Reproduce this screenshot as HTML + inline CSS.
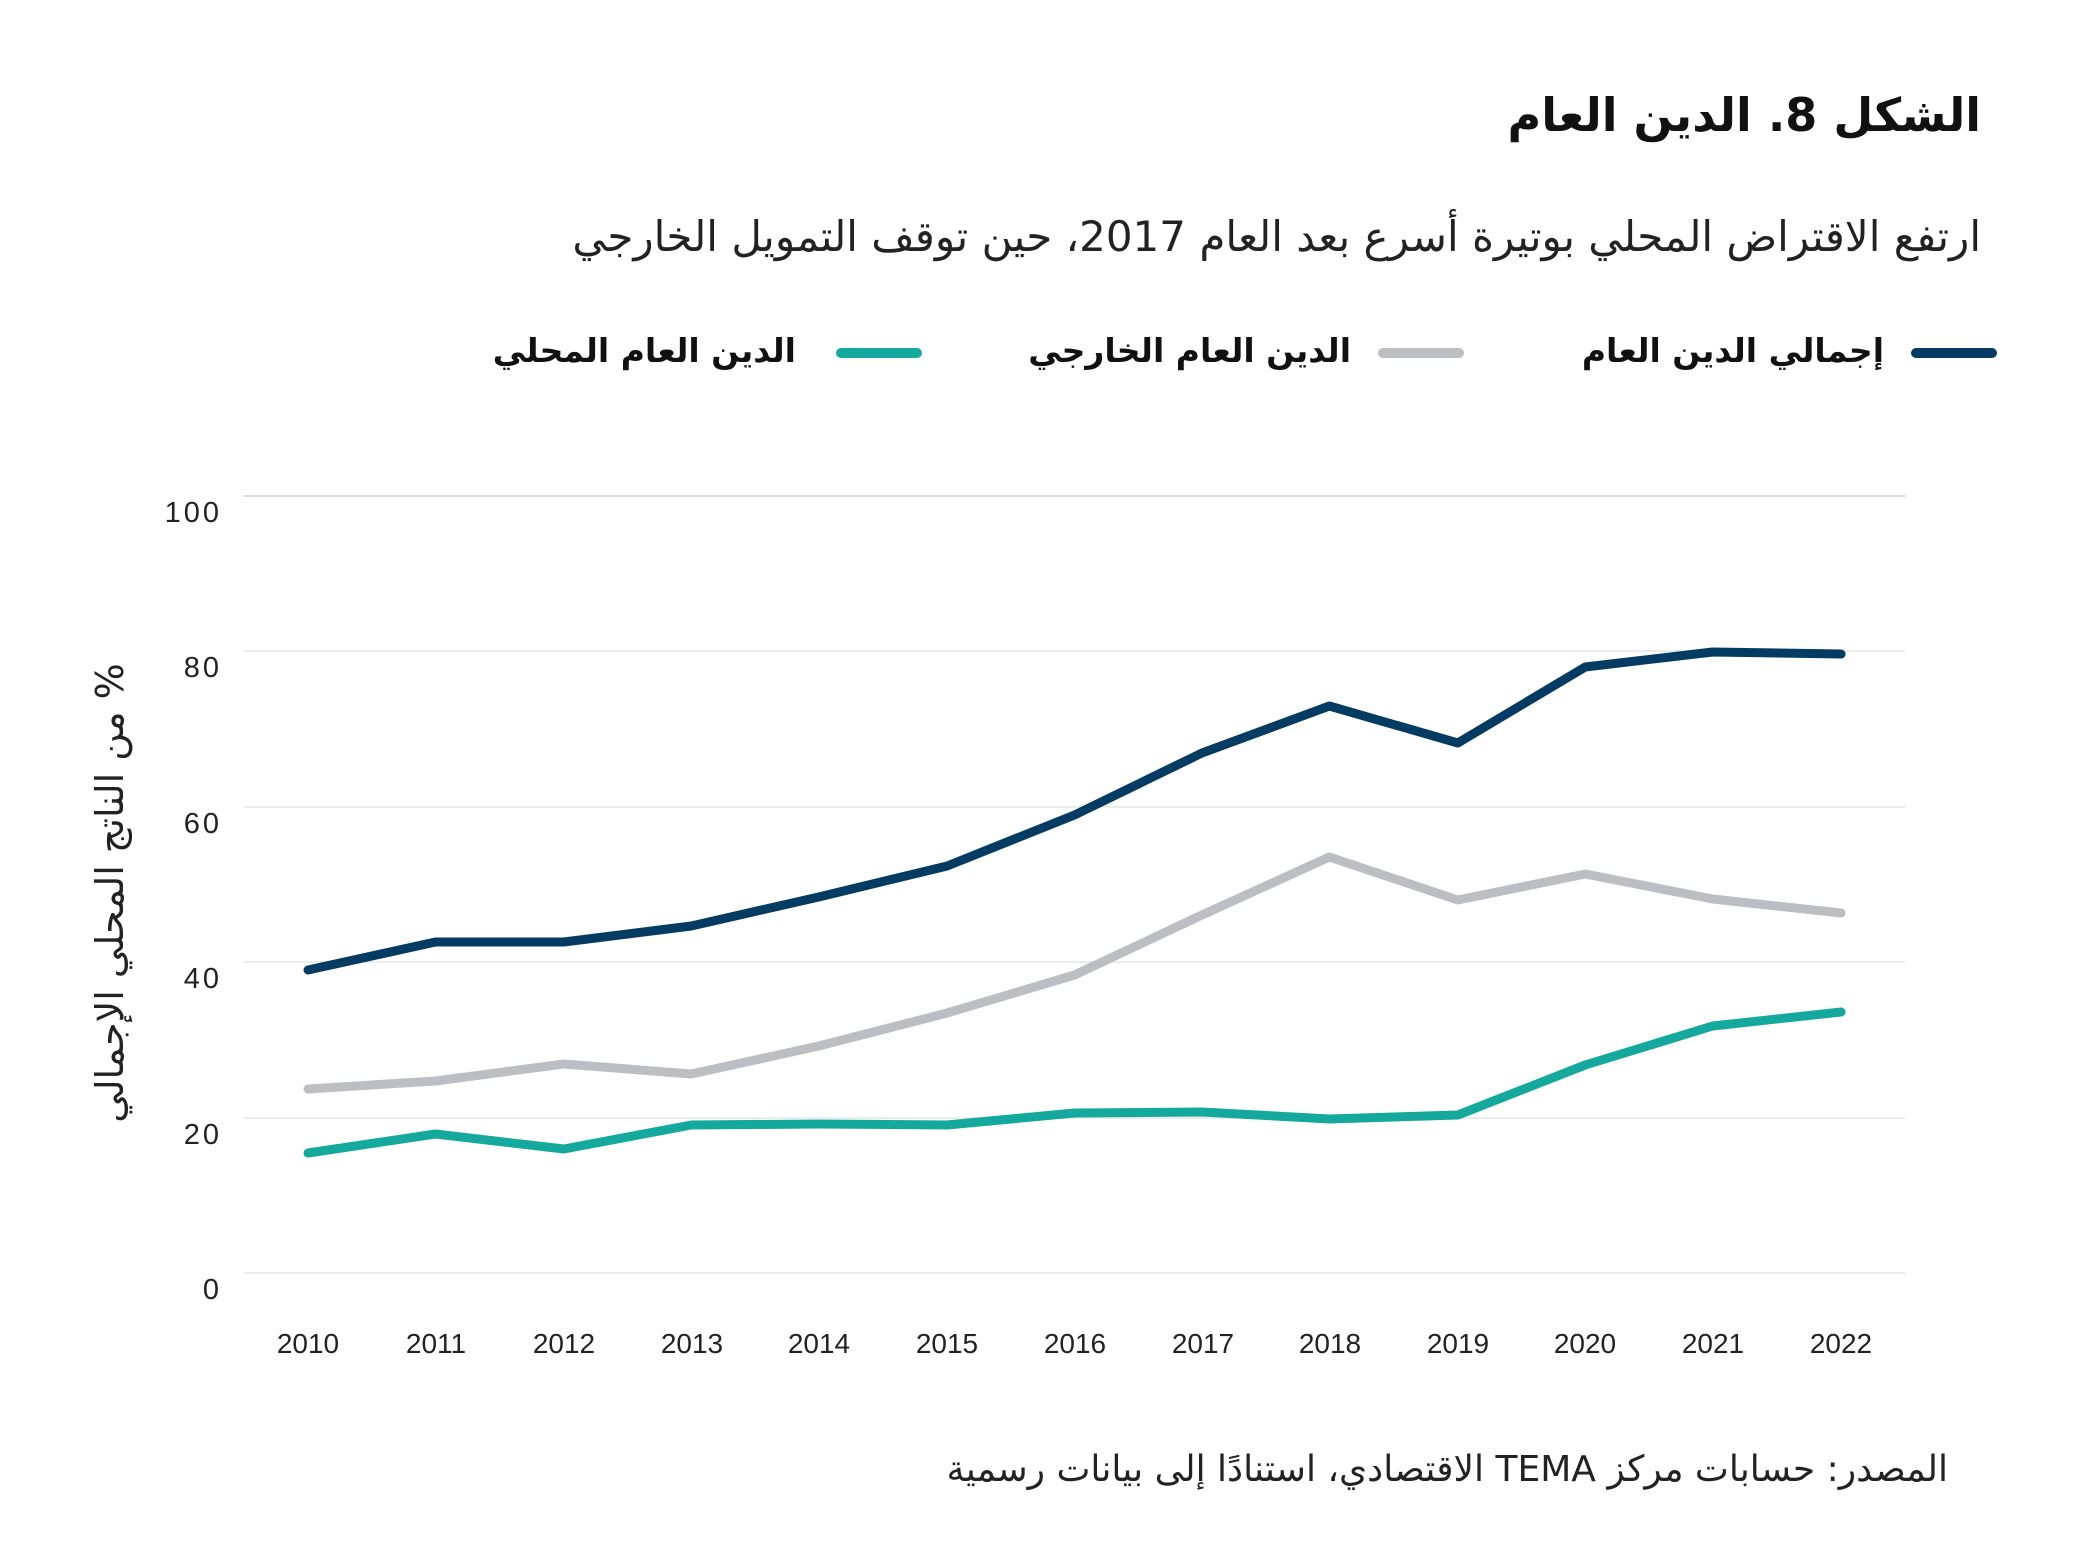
<!DOCTYPE html>
<html><head><meta charset="utf-8"><style>
body{margin:0;background:#fff;}
svg{display:block}
</style></head><body>
<svg width="2084" height="1562" viewBox="0 0 2084 1562" xmlns="http://www.w3.org/2000/svg">
<rect width="2084" height="1562" fill="#fff"/>
<g font-family="DejaVu Sans, sans-serif">
<text x="1981" y="131" text-anchor="start" direction="rtl" font-size="46" font-weight="bold" fill="#111">الشكل 8. الدين العام</text>
<text x="1981" y="251" text-anchor="start" direction="rtl" font-size="42" fill="#222">ارتفع الاقتراض المحلي بوتيرة أسرع بعد العام 2017، حين توقف التمويل الخارجي</text>
<line x1="1916" y1="353" x2="1992" y2="353" stroke="#043b62" stroke-width="10" stroke-linecap="round"/>
<text x="1884" y="362" text-anchor="start" direction="rtl" font-size="33" font-weight="bold" fill="#111">إجمالي الدين العام</text>
<line x1="1383" y1="353" x2="1459" y2="353" stroke="#bdbec2" stroke-width="10" stroke-linecap="round"/>
<text x="1351" y="362" text-anchor="start" direction="rtl" font-size="33" font-weight="bold" fill="#111">الدين العام الخارجي</text>
<line x1="841" y1="353" x2="917" y2="353" stroke="#14a99c" stroke-width="10" stroke-linecap="round"/>
<text x="796" y="362" text-anchor="start" direction="rtl" font-size="33" font-weight="bold" fill="#111">الدين العام المحلي</text>
</g>
<g stroke="#e6e6e6" stroke-width="1.5">
<line x1="244" y1="496" x2="1905" y2="496" stroke="#d0d0d0"/>
<line x1="244" y1="651" x2="1905" y2="651"/>
<line x1="244" y1="807" x2="1905" y2="807"/>
<line x1="244" y1="962" x2="1905" y2="962"/>
<line x1="244" y1="1118" x2="1905" y2="1118"/>
<line x1="244" y1="1273" x2="1905" y2="1273"/>
</g>
<g font-family="Liberation Sans, sans-serif" font-size="29" fill="#222" text-anchor="end" letter-spacing="3">
<text x="222" y="522">100</text><text x="222" y="677">80</text><text x="222" y="833">60</text>
<text x="222" y="988">40</text><text x="222" y="1144">20</text><text x="222" y="1299">0</text>
</g>
<g font-family="Liberation Sans, sans-serif" font-size="28" fill="#222" text-anchor="middle">
<text x="308" y="1353">2010</text><text x="436" y="1353">2011</text><text x="564" y="1353">2012</text>
<text x="692" y="1353">2013</text><text x="819" y="1353">2014</text><text x="947" y="1353">2015</text>
<text x="1075" y="1353">2016</text><text x="1203" y="1353">2017</text><text x="1330" y="1353">2018</text>
<text x="1458" y="1353">2019</text><text x="1585" y="1353">2020</text><text x="1713" y="1353">2021</text>
<text x="1841" y="1353">2022</text>
</g>
<text transform="translate(110,893) rotate(-90)" text-anchor="middle" direction="rtl" font-size="38" fill="#222" font-family="DejaVu Sans, sans-serif" dy="13">% من الناتج المحلي الإجمالي</text>
<g fill="none" stroke-width="9" stroke-linecap="round" stroke-linejoin="round" transform="translate(-1,-4) translate(309,0) scale(0.9955,1) translate(-309,0)">
<polyline stroke="#bdbec2" points="309,1093 437,1085 566,1068 694,1078 822,1050 951,1017 1079,979 1207,919 1335,861 1464,904 1592,878 1720,903 1849,917"/>
<polyline stroke="#14a99c" points="309,1157 437,1138 566,1153 694,1129 822,1128 951,1129 1079,1117 1207,1116 1335,1123 1464,1119 1592,1069 1720,1030 1849,1016"/>
<polyline stroke="#043b62" points="309,974 437,946 566,946 694,930 822,901 951,870 1079,819 1207,757 1335,710 1464,747 1592,671 1720,656 1849,658"/>
</g>
<text x="1948" y="1481" text-anchor="start" direction="rtl" font-size="36" fill="#222" font-family="DejaVu Sans, sans-serif">المصدر: حسابات مركز TEMA الاقتصادي، استنادًا إلى بيانات رسمية</text>
</svg>
</body></html>
